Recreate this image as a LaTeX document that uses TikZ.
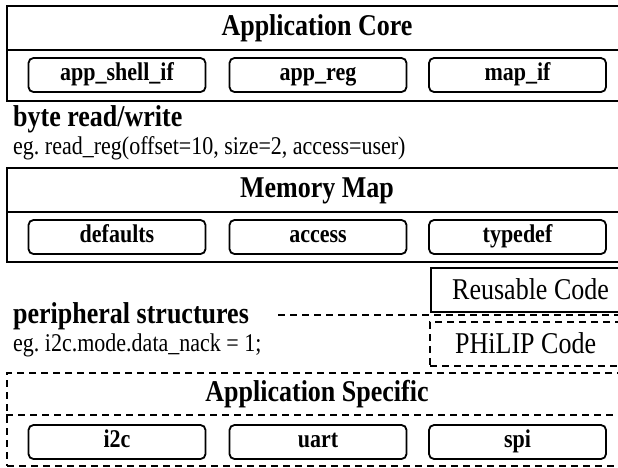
\documentclass[tikz,border=0pt]{standalone}
\usepackage{fontspec}
\usepackage{graphicx}
\setmainfont{Liberation Serif}
\newcommand{\tallt}[1]{\scalebox{1}[1.16]{#1}}
\begin{document}
\frenchspacing
\begin{tikzpicture}[x=1pt,y=-1pt,
  frame/.style={draw, line width=2pt, minimum width=622pt, inner sep=0pt, anchor=north west},
  dframe/.style={frame, dash pattern=on 7pt off 5pt},
  subbox/.style={draw, rounded corners=5pt, line width=1.8pt, minimum width=177pt, minimum height=34pt,
    inner sep=0pt, text height=16pt, text depth=5pt, font=\fontsize{22}{24}\selectfont\bfseries},
  title/.style={inner sep=0pt, text height=20pt, text depth=6pt, font=\fontsize{26}{30}\selectfont\bfseries},
  head/.style={inner sep=0pt, anchor=base west, font=\fontsize{26}{30}\selectfont\bfseries},
  note/.style={inner sep=0pt, anchor=base west, font=\fontsize{22}{26}\selectfont},
  legtext/.style={inner sep=0pt, anchor=base west, font=\fontsize{26}{30}\selectfont},
  divline/.style={line width=2pt},
  ddivline/.style={line width=2pt, dash pattern=on 7pt off 5pt}]
\useasboundingbox (0,0) rectangle (618,467);
\clip (0,0) rectangle (618,467);

% Application Core
\node[frame, minimum height=95pt] (core) at (6,5) {};
\draw[divline] ([yshift=-45pt]core.north west) -- ([yshift=-45pt]core.north east);
\node[title] (coret) at (317,28) {\tallt{Application Core}};
\node[subbox] (shell) at (117,75) {\tallt{app\_shell\_if}};
\node[subbox] (reg) at (318,75) {\tallt{app\_reg}};
\node[subbox] (mapif) at (517.5,75) {\tallt{map\_if}};

% byte read/write
\node[head] (brw) at (13,126) {\tallt{byte read/write}};
\node[note] (brweg) at (13,154) {\tallt{eg. read\_reg(offset=10, size=2, access=user)}};

% Memory Map
\node[frame, minimum height=94pt] (mm) at (6,167) {};
\draw[divline] ([yshift=-45pt]mm.north west) -- ([yshift=-45pt]mm.north east);
\node[title] (mmt) at (317,190) {\tallt{Memory Map}};
\node[subbox] (defaults) at (117,237) {\tallt{defaults}};
\node[subbox] (access) at (318,237) {\tallt{access}};
\node[subbox] (typedef) at (517.5,237) {\tallt{typedef}};

% Legend
\node[frame, minimum width=200pt, minimum height=44pt] (reuse) at (430,267) {};
\node[legtext] (reuset) at (452,299) {\tallt{Reusable Code}};
\node[dframe, minimum width=200pt, minimum height=44pt] (philip) at (429,321) {};
\node[legtext] (philipt) at (455,353) {\tallt{PHiLIP Code}};

% peripheral structures
\node[head] (perif) at (13,323) {\tallt{peripheral structures}};
\node[note] (perifeg) at (13,351) {\tallt{eg. i2c.mode.data\_nack = 1;}};
\coordinate (dl) at (278,315);
\coordinate (dr) at (630,315);
\draw[ddivline] (dl) -- (dr);

% Application Specific
\node[dframe, minimum height=93pt] (spec) at (6,372) {};
\draw[ddivline] ([yshift=-43pt]spec.north west) -- ([yshift=-43pt]spec.north east);
\node[title] (spect) at (317,394.5) {\tallt{Application Specific}};
\node[subbox] (i2c) at (117,442) {\tallt{i2c}};
\node[subbox] (uart) at (318,442) {\tallt{uart}};
\node[subbox] (spi) at (517.5,442) {\tallt{spi}};
\end{tikzpicture}
\end{document}
